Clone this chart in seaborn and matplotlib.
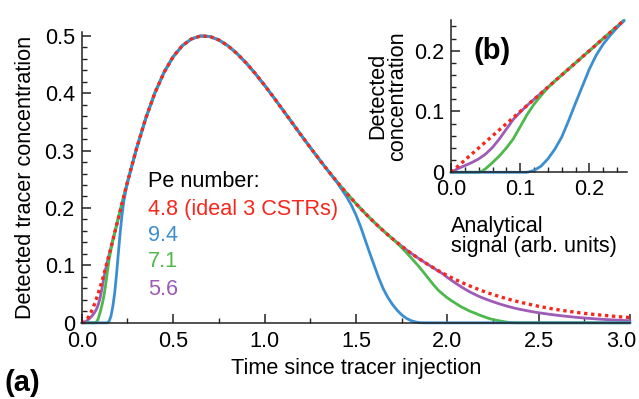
import matplotlib
matplotlib.use("Agg")
import matplotlib.pyplot as plt
from matplotlib.ticker import MultipleLocator
from matplotlib.transforms import ScaledTranslation
import seaborn as sns

# ---------------- data ----------------
# time grid (dimensionless time since tracer injection)
time = ([round(0.01 * i, 2) for i in range(0, 26)] +
        [0.30, 0.35, 0.40, 0.45, 0.50, 0.55, 0.60, 0.65, 0.70, 0.75, 0.80,
         0.85, 0.90, 0.95, 1.00, 1.05, 1.10, 1.15, 1.20, 1.25, 1.30, 1.35] +
        [1.400, 1.425, 1.450, 1.475, 1.500, 1.525, 1.550, 1.575, 1.600, 1.625,
         1.650, 1.675, 1.700, 1.725, 1.750, 1.775, 1.800, 1.825, 1.850, 1.875,
         1.900, 1.925, 1.950, 1.975, 2.000, 2.025, 2.050, 2.075, 2.100, 2.125,
         2.150, 2.175, 2.200, 2.225, 2.250, 2.275, 2.300, 2.325, 2.350, 2.375,
         2.400] +
        [2.45, 2.50, 2.55, 2.60, 2.65, 2.70, 2.75, 2.80, 2.85, 2.90, 2.95, 3.00])

# Pe 4.8 (ideal 3 CSTRs)
conc_pe48 = [0.0000, 0.0008, 0.0031, 0.0068, 0.0118, 0.0179, 0.0250, 0.0330,
             0.0418, 0.0514, 0.0616, 0.0723, 0.0835, 0.0951, 0.1070, 0.1192,
             0.1316, 0.1442, 0.1569, 0.1697, 0.1824, 0.1952, 0.2079, 0.2205,
             0.2330, 0.2454,
             0.3041, 0.3562, 0.4005, 0.4362, 0.4635, 0.4827, 0.4945, 0.4996,
             0.4988, 0.4927, 0.4825, 0.4688, 0.4524, 0.4338, 0.4138, 0.3926,
             0.3708, 0.3489, 0.3269, 0.3054, 0.2843, 0.2638,
             0.2443, 0.2348, 0.2255, 0.2165, 0.2077, 0.1992, 0.1909, 0.1828,
             0.1751, 0.1675, 0.1603, 0.1532, 0.1464, 0.1399, 0.1336, 0.1275,
             0.1216, 0.1160, 0.1106, 0.1054, 0.1004, 0.0956, 0.0910, 0.0866,
             0.0824, 0.0783, 0.0745, 0.0708, 0.0673, 0.0639, 0.0607, 0.0576,
             0.0547, 0.0519, 0.0493, 0.0467, 0.0443, 0.0420, 0.0398, 0.0377,
             0.0358,
             0.0321, 0.0287, 0.0257, 0.0230, 0.0206, 0.0184, 0.0164, 0.0147,
             0.0131, 0.0117, 0.0103, 0.0092]

# Pe 9.4
conc_pe94 = ([0.0] * 15 +
             [0.003, 0.012, 0.029, 0.052, 0.084, 0.121, 0.157, 0.188, 0.212,
              0.229, 0.244] +
             conc_pe48[26:48] +
             [0.243, 0.231, 0.219, 0.205, 0.188, 0.168, 0.145, 0.122, 0.100,
              0.078, 0.059, 0.044, 0.032, 0.022, 0.014, 0.008, 0.004, 0.0015,
              0.0002] +
             [0.0] * 34)

# Pe 7.1
conc_pe71 = ([0.0] * 8 +
             [0.001, 0.007, 0.018, 0.030, 0.045, 0.065, 0.089, 0.111, 0.128,
              0.143] +
             conc_pe48[18:61] +
             [0.139, 0.131, 0.1225, 0.114, 0.105, 0.096, 0.086, 0.076, 0.066,
              0.057, 0.050, 0.0436, 0.038, 0.033, 0.028, 0.024, 0.020, 0.017,
              0.0136, 0.0107, 0.0079, 0.0056, 0.004, 0.0026, 0.0012, 0.0003] +
             [0.0] * 14)

# Pe 5.6
conc_pe56 = ([0.0, 0.0005, 0.002, 0.004, 0.007, 0.010, 0.0135, 0.018, 0.0234,
              0.0315, 0.043, 0.059, 0.077, 0.093, 0.107] +
             conc_pe48[15:70] +
             [0.090, 0.0855, 0.079, 0.0735, 0.068, 0.063, 0.058, 0.0535,
              0.0495, 0.0458, 0.0425, 0.0395, 0.0367, 0.034, 0.0315, 0.0292,
              0.027, 0.025, 0.0233] +
             [0.0202, 0.0175, 0.0152, 0.0131, 0.0113, 0.0097, 0.0083, 0.0071,
              0.006, 0.0051, 0.0043, 0.0036])

# inset (b): detected concentration vs analytical signal
sig_ideal = [0.0, 0.25]
det_ideal = [0.0, 0.25]
sig_pe94 = [0.0, 0.11, 0.12, 0.13, 0.14, 0.15, 0.16, 0.17, 0.18, 0.19, 0.20,
            0.21, 0.22, 0.23, 0.24, 0.25]
det_pe94 = [0.0, 0.0, 0.003, 0.010, 0.022, 0.038, 0.058, 0.085, 0.114, 0.142,
            0.170, 0.193, 0.211, 0.225, 0.238, 0.249]
sig_pe71 = [0.0, 0.04, 0.045, 0.05, 0.06, 0.07, 0.08, 0.09, 0.10, 0.11, 0.12,
            0.13, 0.14, 0.15, 0.25]
det_pe71 = [0.0, 0.0, 0.002, 0.006, 0.016, 0.027, 0.040, 0.055, 0.075, 0.095,
            0.112, 0.126, 0.139, 0.150, 0.25]
sig_pe56 = [0.0, 0.01, 0.02, 0.03, 0.04, 0.05, 0.06, 0.07, 0.08, 0.09, 0.10,
            0.11, 0.25]
det_pe56 = [0.0, 0.006, 0.011, 0.016, 0.022, 0.030, 0.041, 0.055, 0.071, 0.087,
            0.099, 0.110, 0.25]

x_ticks = [0.0, 0.5, 1.0, 1.5, 2.0, 2.5, 3.0]
x_ticklabels = ["0.0", "0.5", "1.0", "1.5", "2.0", "2.5", "3.0"]
y_ticks = [0.0, 0.1, 0.2, 0.3, 0.4, 0.5]
y_ticklabels = ["0", "0.1", "0.2", "0.3", "0.4", "0.5"]
in_x_ticks = [0.0, 0.1, 0.2]
in_x_ticklabels = ["0.0", "0.1", "0.2"]
in_y_ticks = [0.0, 0.1, 0.2]
in_y_ticklabels = ["0", "0.1", "0.2"]

legend_title = "Pe number:"
legend_labels = ["4.8 (ideal 3 CSTRs)", "9.4", "7.1", "5.6"]

# ---------------- style ----------------
RED = "#f5281e"
BLUE = "#3b8fd0"
GREEN = "#4db84b"
PURPLE = "#9f5bb6"

sns.set_theme(style="ticks")
plt.rcParams["font.family"] = ["Liberation Sans", "DejaVu Sans"]
plt.rcParams["axes.linewidth"] = 1.1
plt.rcParams["axes.edgecolor"] = "#222222"

FS = 15.6

fig = plt.figure(figsize=(6.39, 3.99), dpi=100)
ax = fig.add_axes([0.128, 0.191, 0.858, 0.728])
ax_in = fig.add_axes([0.7058, 0.5682, 0.2751, 0.381])

lw = 2.0
dot = dict(linewidth=2.4, linestyle=(0, (1, 1.1)), dash_capstyle="butt")


def draw(a, x, y, color, z, **kw):
    sns.lineplot(x=x, y=y, ax=a, color=color, sort=False, estimator=None,
                 zorder=z, clip_on=False, **kw)


def style_axis(a, xminor, yminor):
    a.xaxis.set_minor_locator(MultipleLocator(xminor))
    a.yaxis.set_minor_locator(MultipleLocator(yminor))
    for s in ["top", "right"]:
        a.spines[s].set_visible(False)
    a.tick_params(which="both", bottom=True, left=True, top=False,
                  right=False, direction="in", color="#222222")
    a.tick_params(which="major", length=6.5, width=1.1, labelsize=FS, pad=5,
                  labelcolor="black")
    a.tick_params(which="minor", length=3.5, width=1.0)


# main panel (a)
draw(ax, time, conc_pe56, PURPLE, 2.1, linewidth=lw)
draw(ax, time, conc_pe71, GREEN, 2.2, linewidth=lw)
draw(ax, time, conc_pe94, BLUE, 2.3, linewidth=lw)
draw(ax, time, conc_pe48, RED, 2.4, **dot)

ax.set_xlim(0, 3.0)
ax.set_ylim(0, 0.506)
ax.set_xticks(x_ticks, x_ticklabels)
ax.set_yticks(y_ticks, y_ticklabels)
style_axis(ax, 0.25, 0.02)
ax.tick_params(axis="x", which="major", pad=6)
# the last tick label sits slightly left of its tick, as in the reference
last = ax.get_xticklabels()[-1]
last.set_transform(last.get_transform() +
                   ScaledTranslation(-0.09, 0, fig.dpi_scale_trans))
ax.set_xlabel("Time since tracer injection", fontsize=FS, labelpad=4,
              color="black")
ax.set_ylabel("Detected tracer concentration", fontsize=FS, labelpad=6,
              color="black")

# text legend
tx = 0.361
ax.text(tx, 0.236, legend_title, fontsize=FS, color="black", va="baseline")
for lab, col, yy in zip(legend_labels, [RED, BLUE, GREEN, PURPLE],
                        [0.187, 0.143, 0.0975, 0.048]):
    ax.text(tx, yy, lab, fontsize=FS, color=col, va="baseline")

# inset panel (b)
draw(ax_in, sig_pe56, det_pe56, PURPLE, 2.1, linewidth=lw)
draw(ax_in, sig_pe71, det_pe71, GREEN, 2.2, linewidth=lw)
draw(ax_in, sig_pe94, det_pe94, BLUE, 2.3, linewidth=lw)
draw(ax_in, sig_ideal, det_ideal, RED, 2.4, **dot)

ax_in.set_facecolor("none")
ax_in.set_xlim(0, 0.254)
ax_in.set_ylim(0, 0.25)
ax_in.set_xticks(in_x_ticks, in_x_ticklabels)
ax_in.set_yticks(in_y_ticks, in_y_ticklabels)
style_axis(ax_in, 0.02, 0.02)
ax_in.set_xlabel("Analytical\nsignal (arb. units)", fontsize=FS, loc="left",
                 labelpad=11, color="black", linespacing=0.95)
ax_in.set_ylabel("Detected\nconcentration", fontsize=FS, labelpad=4,
                 color="black", linespacing=0.95)
ax_in.text(0.233, 0.80, "(b)", transform=ax_in.transAxes, fontsize=21,
           fontweight="bold", ha="center", va="center", color="black")

fig.text(5 / 639, 1 - 383 / 399, "(a)", fontsize=21, fontweight="bold",
         ha="left", va="center", color="black")

fig.savefig("out.png", dpi=100)
